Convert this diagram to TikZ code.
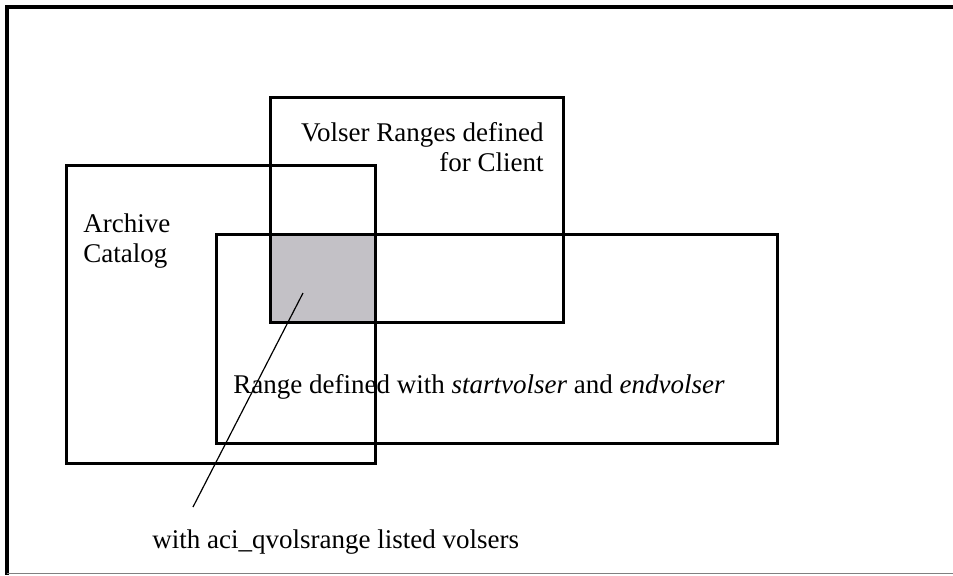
\documentclass[tikz,border=0pt]{standalone}
\usepackage{fontspec}
\setmainfont{Liberation Serif}
\usetikzlibrary{positioning}
\definecolor{ShadeGray}{RGB}{195,193,198}
\definecolor{EdgeGray}{HTML}{808080}
\tikzset{
  rangebox/.style={draw=black, line width=1.5pt},
  rangetext/.style={inner sep=0pt, font=\fontsize{13.5}{15}\selectfont}
}

\begin{document}
\begin{tikzpicture}[x=0.5pt, y=-0.5pt]
\useasboundingbox (0,0) rectangle (953,575);

% corners of the three ranges
\coordinate (volser-nw) at (270,97.5);
\coordinate (volser-se) at (563.5,322);
\coordinate (catalog-nw) at (66,165);
\coordinate (catalog-se) at (375,463.5);
\coordinate (range-nw) at (216,234);
\coordinate (range-se) at (777,443);

% overlap of all three
\fill[ShadeGray] (volser-nw |- range-nw) rectangle (catalog-se |- volser-se);

\draw[rangebox] (volser-nw) rectangle (volser-se);
\draw[rangebox] (catalog-nw) rectangle (catalog-se);
\draw[rangebox] (range-nw) rectangle (range-se);

\node[rangetext, anchor=north east, align=right] (volser-text) at (544,122)
  {Volser Ranges defined\\for Client};
\node[rangetext, anchor=north west, align=left] (catalog-text) at (83,213)
  {Archive\\Catalog};
\node[rangetext, anchor=base west] (range-text) at (233,393)
  {Range defined with \textit{startvolser} and \textit{endvolser}};
\node[rangetext, anchor=base west] (listed-text) at (152,548)
  {with aci\_qvolsrange listed volsers};

% leader to the shaded part
\coordinate (listed-tip) at (303,293);
\coordinate (listed-foot) at (193,507);
\draw[line width=0.6pt] (listed-tip) -- (listed-foot);

% outer frame
\draw[line width=2pt] (953,6.5) -- (6.5,6.5) -- (6.5,575);
\draw[EdgeGray, line width=0.5pt] (6.5,573.5) -- (953,573.5);
\end{tikzpicture}
\end{document}
